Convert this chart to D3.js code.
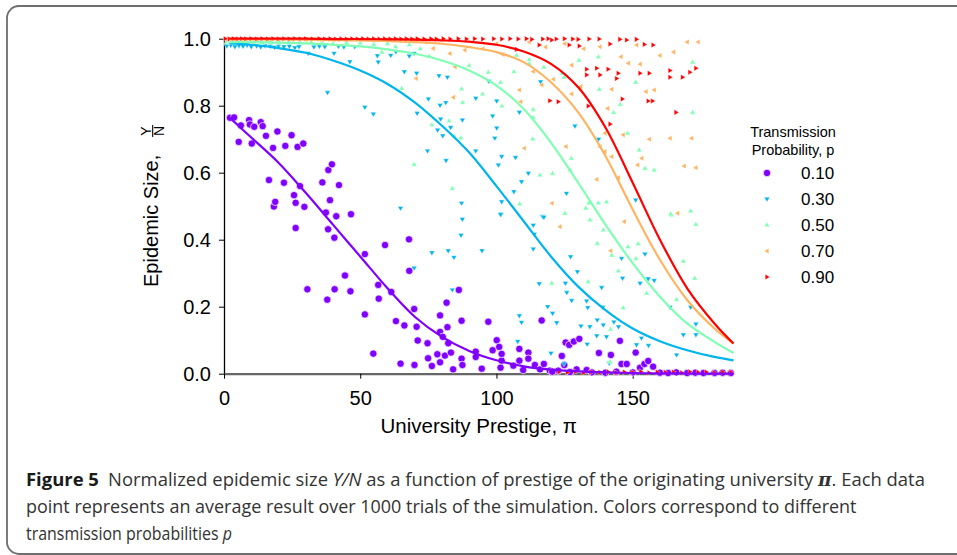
<!DOCTYPE html>
<html>
<head>
<meta charset="utf-8">
<script src="https://cdn.jsdelivr.net/npm/d3@7"></script>
<style>
  body { margin: 0; background: #fff; }
  svg { display: block; }
  .axis text { font-family: "Liberation Sans", Arial, sans-serif; font-size: 20px; fill: #000; }
</style>
</head>
<body>
<svg id="chart" width="957" height="555"></svg>
<script>
// transmission probabilities (legend order)
const probs = ['0.10', '0.30', '0.50', '0.70', '0.90'];
const colors = ['#8000ff', '#00b4ec', '#80ffb4', '#ffb462', '#ff0000'];
const yTicks = [0, 0.2, 0.4, 0.6, 0.8, 1.0];
const xTicks = [0, 50, 100, 150];

// simulation points [prestige, Y/N]
const p10 = [[2.2,0.764],[3.7,0.765],[5.4,0.692],[6.2,0.741],[9.2,0.757],[9.5,0.744],[10.2,0.687],[11.1,0.737],[13.5,0.751],[14.2,0.739],
  [15.4,0.71],[16.5,0.578],[18,0.674],[18.3,0.499],[18.8,0.513],[19.6,0.723],[22,0.57],[22.5,0.68],[24.8,0.712],[25.7,0.533],
  [26.3,0.51],[26.3,0.435],[27,0.677],[27.9,0.56],[29.1,0.687],[29.5,0.498],[30.6,0.252],[36.1,0.571],[37.4,0.481],[37.9,0.221],
  [38.2,0.431],[38.3,0.608],[38.9,0.518],[39.6,0.625],[40.5,0.406],[40.6,0.252],[41.2,0.47],[42.2,0.563],[44.4,0.293],[46.4,0.246],
  [46.6,0.476],[51.7,0.357],[51.7,0.177],[54.8,0.06],[56.6,0.265],[56.8,0.224],[59.1,0.384],[61.4,0.244],[63.1,0.157],[64.8,0.03],
  [66.2,0.144],[67.9,0.401],[68,0.307],[69.8,0.193],[69.9,0.026],[70.7,0.14],[71.1,0.099],[74.7,0.091],[74.9,0.046],[76.3,0.023],
  [78.3,0.058],[79.3,0.174],[79.3,0.125],[79.3,0.034],[80.3,0.11],[81.1,0.054],[81.7,0.212],[82,0.139],[82.3,0.091],[83.3,0.063],
  [84.1,0.013],[86.2,0.25],[87.2,0.158],[87.2,0.045],[87.5,0.026],[92.4,0.066],[92.4,0.05],[94.6,0.015],[97,0.155],[98.6,0.07],
  [100.1,0.1],[101,0.08],[101.5,0.018],[101.9,0.039],[101.9,0.059],[106.2,0.024],[108.4,0.074],[108.4,0.039],[109.8,0.011],[111.7,0.063],
  [111.7,0.045],[114.1,0.026],[116,0.013],[116.6,0.159],[117.4,0.029],[119.6,0.009],[122.7,0.009],[124,0.053],[124.9,0.026],[125.4,0.093],
  [126.7,0.086],[128.4,0.096],[129.4,0.013],[130.4,0.104],[133.1,0.011],[137.6,0.062],[142,0.056],[145.3,0.098],[145.9,0.029],[147.8,0.029],
  [151.1,0.063],[152.7,0.018],[154.3,0.029],[155.7,0.038],[157.5,0.021],[120.5,0.006],[127,0.005],[135,0.004],[140,0.003],[144,0.006],
  [150,0.004],[160,0.003],[163,0.002],[166,0.004],[170,0.002],[173,0.003],[176,0.002],[180,0.002],[183,0.003],[186,0.002]];

const p30 = [[1,0.978],[2.5,0.98],[4,0.976],[5.5,0.979],[7,0.977],[8.5,0.98],[10,0.976],[12,0.978],[13.5,0.975],[15,0.979],
  [17,0.977],[18.5,0.974],[20,0.978],[22,0.976],[24,0.977],[26,0.973],[27.5,0.976],[30.9,0.956],[33,0.975],[35,0.977],
  [37,0.976],[40.4,0.956],[42,0.977],[44,0.975],[46.2,0.931],[48,0.976],[38,0.839],[51.7,0.795],[54.8,0.775],[56.3,0.949],
  [56.6,0.93],[61.2,0.95],[63.1,0.961],[66.2,0.901],[68,0.948],[69.8,0.956],[70.7,0.897],[70.9,0.777],[75,0.82],[78.4,0.727],
  [78.9,0.889],[79.3,0.801],[79.5,0.76],[80.3,0.71],[81.4,0.809],[81.5,0.636],[82,0.885],[83.2,0.735],[87.5,0.757],[74.7,0.665],
  [92.4,0.822],[92.4,0.665],[97.2,0.873],[98.6,0.769],[99.4,0.703],[100.1,0.814],[100.1,0.733],[100.7,0.623],[101.9,0.648],[101.9,0.513],
  [101.7,0.476],[106.4,0.543],[107,0.645],[108.4,0.78],[109.2,0.573],[111.7,0.598],[116.2,0.871],[116.9,0.469],[125.7,0.538],[128.8,0.739],
  [137.5,0.7],[151.1,0.518],[64.8,0.494],[87.2,0.509],[87.5,0.461],[87,0.413],[101.5,0.475],[76.3,0.361],[82.3,0.367],[84.4,0.347],
  [94.7,0.367],[83.8,0.25],[113.5,0.443],[113.9,0.416],[113.5,0.372],[117.4,0.467],[127.2,0.349],[129.7,0.304],[115.7,0.268],[125.3,0.27],
  [125.8,0.242],[127.6,0.218],[133.1,0.217],[133.5,0.197],[138.6,0.257],[139,0.198],[118.8,0.2],[120.6,0.18],[108.4,0.173],[109.2,0.153],
  [122.1,0.152],[131,0.142],[134.3,0.14],[137,0.16],[139.2,0.145],[143.1,0.154],[144.8,0.14],[133.3,0.088],[136.8,0.113],[140.4,0.11],
  [145.9,0.344],[146.3,0.285],[152.7,0.27],[155.7,0.283],[157.9,0.278],[154.5,0.357],[151.4,0.086],[153.2,0.106],[155.8,0.084],[163.7,0.198],
  [171.3,0.198],[168.6,0.116],[166.1,0.056],[173.2,0.148],[173.2,0.116],[120,0.061],[124.8,0.029],[107.8,0.096],[141.4,0.031],[69.8,0.315]];

const p50 = [[1,0.99],[3,0.988],[5,0.99],[8,0.987],[11,0.99],[14,0.988],[17,0.99],[20,0.987],[24,0.99],[28,0.988],
  [32,0.99],[36,0.987],[40,0.985],[45,0.988],[50,0.987],[55,0.983],[60,0.985],[63,0.976],[68,0.982],[72,0.97],
  [65.2,0.852],[75.3,0.948],[87.2,0.85],[87.6,0.81],[94.9,0.835],[101.5,0.87],[106.4,0.902],[107.4,0.951],[112,0.938],[112,0.926],
  [117.4,0.915],[124.2,0.897],[130.3,0.936],[137.4,0.946],[137.7,0.849],[151.1,0.87],[145.4,0.804],[102,0.799],[113.5,0.789],[113.5,0.765],
  [76.3,0.743],[82.6,0.755],[86.9,0.704],[84.5,0.71],[113.3,0.701],[69.8,0.625],[83.8,0.553],[116,0.593],[120.6,0.598],[127,0.608],
  [127.5,0.643],[108.5,0.507],[125.1,0.479],[133.9,0.51],[137.4,0.51],[140.4,0.513],[124.9,0.885],[148.1,0.718],[152.4,0.668],[154.5,0.613],
  [157.9,0.608],[164.3,0.474],[171.3,0.486],[132.8,0.494],[134.3,0.459],[139.2,0.429],[137,0.389],[142.3,0.354],[144.7,0.307],[148.3,0.379],
  [152,0.388],[151.2,0.344],[155.1,0.24],[163.9,0.477],[173.2,0.446],[168.6,0.336],[172.8,0.285],[166.1,0.222],[146.5,0.197],[141.9,0.133],
  [120.3,0.27],[133.7,0.275],[141.7,0.036],[90,0.92],[97,0.9],[58,0.96],[131,0.85],[143,0.78],[172,0.78],[172,0.93]];

const p70 = [[1,0.998],[4,0.997],[8,0.998],[12,0.998],[16,0.997],[20,0.998],[25,0.998],[30,0.997],[35,0.998],[40,0.998],
  [45,0.997],[50,0.998],[55,0.996],[60,0.997],[65,0.995],[70,0.996],[74,0.99],[76.8,0.971],[82.9,0.956],[88.4,0.966],
  [84.8,0.916],[70.5,0.881],[84.2,0.825],[102.3,0.953],[108.4,0.847],[108.9,0.812],[113.5,0.902],[116.6,0.862],[120.9,0.879],[127.6,0.921],
  [127.6,0.835],[130.9,0.857],[138,0.976],[140.8,0.792],[139.8,0.718],[142.3,0.849],[145.7,0.946],[148.4,0.927],[152.7,0.924],[151.4,0.981],
  [154.9,0.842],[157.9,0.847],[156.1,0.7],[163.7,0.703],[171.6,0.703],[168.9,0.62],[173.2,0.615],[166.5,0.479],[120.4,0.509],[110.2,0.673],
  [125.5,0.678],[138,0.678],[139.8,0.663],[142.3,0.648],[146.5,0.713],[153.3,0.643],[151.8,0.623],[144.7,0.585],[136.8,0.58],[123.3,0.439],
  [146.9,0.454],[141.9,0.367],[95,0.97],[100,0.985],[112,0.99],[118,0.975],[125,0.985],[132,0.97],[160,0.95],[165,0.96],
  [170,0.99],[174,0.99]];

const p90 = [[0.5,1],[2,0.999],[3.5,1],[5,0.999],[6.5,1],[8,0.999],[10,1],[12,0.999],[14,1],[16,0.999],
  [18,1],[20,0.999],[22,1],[24,0.999],[26,1],[28,0.999],[30,1],[32.5,0.999],[35,1],[37,0.999],
  [39,1],[41,0.999],[43,1],[45,0.999],[47,1],[49,0.999],[51,1],[53,0.999],[55,1],[57,0.999],
  [59,1],[61,0.999],[63,1],[65,0.999],[67,1],[69,0.999],[71,1],[73.5,0.999],[76,1],[78,0.999],
  [80.5,1],[83,0.999],[86,1],[89,0.999],[92,1],[95,0.999],[99,1],[102,0.999],[105,1],[108,0.999],
  [111,1],[113,0.998],[117,0.999],[119,1],[122,0.999],[125,1],[128,0.999],[130,0.998],[134,0.999],[137.7,0.999],
  [145.3,0.998],[147.8,0.996],[151.4,0.998],[107.4,0.968],[115.7,0.981],[120.3,0.996],[126.7,0.981],[130.4,0.978],[141.7,0.984],[154.3,0.983],
  [157.5,0.981],[133.1,0.909],[133.1,0.892],[136.8,0.912],[138,0.892],[141,0.909],[144.7,0.897],[144.1,0.881],[152.7,0.897],[156.1,0.897],
  [163.7,0.905],[163.7,0.885],[168.3,0.885],[171,0.9],[173.2,0.912],[119.6,0.815],[122.7,0.812],[133.7,0.799],[146.2,0.82],[155.7,0.814],
  [157.3,0.814],[165.9,0.78],[141.7,0.745],
  [123,0.006],[126,0.004],[129,0.006],[132,0.003],[135,0.005],[138,0.004],[141,0.006],[144,0.003],[147,0.005],[150,0.004],
  [153,0.006],[156,0.003],[159,0.005],[162,0.004],[165,0.005],[168,0.003],[171,0.006],[174,0.004],[177,0.005],[180,0.003],
  [183,0.005],[186,0.004]];

// fitted curves, read at these prestige values
const curveX = [2, 10, 20, 30, 40, 50, 60, 70, 80, 90, 100, 110, 120, 130, 140, 150, 160, 170, 180, 187];
const fit10 = [0.765,0.705,0.63,0.54,0.445,0.35,0.255,0.17,0.11,0.068,0.04,0.022,0.012,0.007,0.004,0.002,0.001,0.0006,0.0003,0.0002];
const fit30 = [0.986,0.982,0.972,0.958,0.935,0.905,0.865,0.81,0.74,0.66,0.56,0.455,0.35,0.26,0.19,0.135,0.097,0.07,0.05,0.04];
const fit50 = [0.99,0.99,0.988,0.986,0.982,0.977,0.968,0.955,0.935,0.905,0.86,0.79,0.69,0.57,0.445,0.33,0.23,0.15,0.095,0.062];
const fit70 = [0.998,0.998,0.998,0.997,0.996,0.995,0.993,0.99,0.985,0.975,0.96,0.93,0.87,0.78,0.65,0.49,0.34,0.22,0.135,0.09];
const fit90 = [1,1,1,1,0.999,0.999,0.998,0.997,0.995,0.991,0.982,0.962,0.925,0.855,0.735,0.57,0.4,0.255,0.15,0.09];

const points = [p10, p30, p50, p70, p90];
const fits = [fit10, fit30, fit50, fit70, fit90];
const shapes = ['circle', 'down', 'up', 'left', 'right'];

const svg = d3.select('#chart');

// rounded figure frame
svg.append('rect')
  .attr('x', 7).attr('y', 6).attr('width', 990).attr('height', 548)
  .attr('rx', 12).attr('fill', 'none')
  .attr('stroke', '#6e6e6e').attr('stroke-width', 1.8);

const x = d3.scaleLinear().domain([0, 187]).range([224, 733.5]);
const y = d3.scaleLinear().domain([0, 1]).range([373.7, 38.7]);

function marker(shape) {
  if (shape === 'down') return 'M-2.8,-1.8L2.8,-1.8L0,2.9Z';
  if (shape === 'up') return 'M-2.8,1.8L2.8,1.8L0,-2.9Z';
  if (shape === 'left') return 'M1.8,-2.8L1.8,2.8L-2.9,0Z';
  if (shape === 'right') return 'M-1.8,-2.8L-1.8,2.8L2.9,0Z';
  return null;
}

function drawPoints(g, data, shape, color) {
  if (shape === 'circle') {
    g.selectAll('circle').data(data).join('circle')
      .attr('cx', d => x(d[0])).attr('cy', d => y(d[1]))
      .attr('r', 3.7).attr('fill', color)
      .attr('stroke', '#fff').attr('stroke-width', 0.7);
  } else {
    g.selectAll('path').data(data).join('path')
      .attr('d', marker(shape))
      .attr('transform', d => `translate(${x(d[0])},${y(d[1])})`)
      .attr('fill', color)
      .attr('stroke', '#fff').attr('stroke-width', 0.4);
  }
}

// axes
const yAxis = svg.append('g').attr('class', 'axis')
  .attr('transform', `translate(${x(0)},0)`)
  .call(d3.axisLeft(y).tickValues(yTicks).tickFormat(d3.format('.1f'))
    .tickSize(5).tickSizeOuter(0).tickPadding(8));
yAxis.select('.domain').attr('stroke', '#000').attr('stroke-width', 1.3);

const xAxis = svg.append('g').attr('class', 'axis')
  .attr('transform', `translate(0,${y(0)})`)
  .call(d3.axisBottom(x).tickValues(xTicks).tickSize(5).tickSizeOuter(0).tickPadding(12));
xAxis.select('.domain').attr('stroke', '#666').attr('stroke-width', 2.2);

// scatter then fitted lines
points.forEach((data, i) => {
  drawPoints(svg.append('g'), data, shapes[i], colors[i]);
});

const line = d3.line()
  .x((d, i) => x(curveX[i]))
  .y(d => y(d))
  .curve(d3.curveCatmullRom.alpha(0.5));

fits.forEach((f, i) => {
  svg.append('path')
    .attr('d', line(f))
    .attr('fill', 'none')
    .attr('stroke', colors[i])
    .attr('stroke-width', 2.2);
});

// axis titles
svg.append('text')
  .attr('x', (x(0) + x(187)) / 2).attr('y', 433)
  .attr('text-anchor', 'middle')
  .style('font-family', '"Liberation Sans", Arial, sans-serif')
  .style('font-size', '20.5px')
  .text('University Prestige, \u03c0');

const yt = svg.append('g').attr('transform', 'translate(158,287) rotate(-90)')
  .style('font-family', '"Liberation Sans", Arial, sans-serif');
yt.append('text').attr('x', 0).attr('y', 0)
  .style('font-size', '20px')
  .text('Epidemic Size,');
yt.append('text').attr('x', 156).attr('y', -7.5).attr('text-anchor', 'middle')
  .style('font-size', '14px').text('Y');
yt.append('line').attr('x1', 150).attr('x2', 162).attr('y1', -5.3).attr('y2', -5.3)
  .attr('stroke', '#000').attr('stroke-width', 1.1);
yt.append('text').attr('x', 156).attr('y', 6).attr('text-anchor', 'middle')
  .style('font-size', '14px').text('N');

// legend
const leg = svg.append('g').style('font-family', '"Liberation Sans", Arial, sans-serif');
leg.append('text').attr('x', 793).attr('y', 137).attr('text-anchor', 'middle')
  .style('font-size', '14.5px').text('Transmission');
leg.append('text').attr('x', 793).attr('y', 155).attr('text-anchor', 'middle')
  .style('font-size', '14.5px').text('Probability, p');

probs.forEach((p, i) => {
  const ly = 173 + i * 26;
  const g = leg.append('g');
  drawPoints(g, [[x.invert(767), y.invert(ly)]], shapes[i], colors[i]);
  leg.append('text').attr('x', 801).attr('y', ly + 6)
    .style('font-size', '17px').text(p);
});

// caption
const cap = svg.append('g')
  .style('font-family', '"Open Sans", "Noto Sans", sans-serif')
  .style('font-size', '18px')
  .style('fill', '#333');

const capLines = [
  { y: 486, w: 899, parts: [['Figure 5', 'bold'], ['\u2002Normalized epidemic size ', ''], ['Y/N', 'italic'],
    [' as a function of prestige of the originating university ', ''], ['\u03c0', 'bolditalic'], ['. Each data', '']] },
  { y: 513, w: 831, parts: [['point represents an average result over 1000 trials of the simulation. Colors correspond to different', '']] },
  { y: 540, w: 206, parts: [['transmission probabilities ', ''], ['p', 'italic']] }
];

capLines.forEach(l => {
  const t = cap.append('text').attr('x', 0).attr('y', 0);
  l.parts.forEach(([s, st]) => {
    const ts = t.append('tspan').text(s);
    if (st === 'bold') ts.style('font-weight', 'bold').style('fill', '#1a1a1a');
    if (st === 'italic') ts.style('font-style', 'italic');
    if (st === 'bolditalic') ts.style('font-style', 'italic').style('font-weight', 'bold')
      .style('font-family', '"DejaVu Serif", serif');
  });
  // condense each line to the width it has in the figure
  const k = l.w / t.node().getComputedTextLength();
  t.attr('transform', `translate(26,${l.y}) scale(${k},1)`);
});
</script>
</body>
</html>
